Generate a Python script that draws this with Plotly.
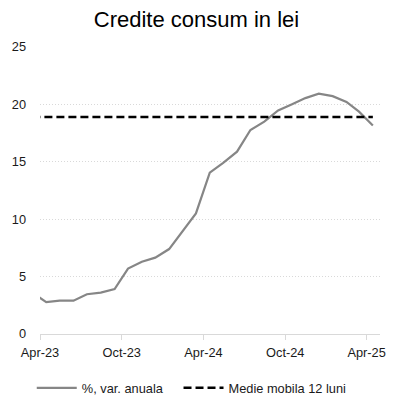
import plotly.graph_objects as go

months = ["2023-03-15", "2023-04-15", "2023-05-15", "2023-06-15", "2023-07-15", "2023-08-15",
          "2023-09-15", "2023-10-15", "2023-11-15", "2023-12-15", "2024-01-15", "2024-02-15",
          "2024-03-15", "2024-04-15", "2024-05-15", "2024-06-15", "2024-07-15", "2024-08-15",
          "2024-09-15", "2024-10-15", "2024-11-15", "2024-12-15", "2025-01-15", "2025-02-15",
          "2025-03-15", "2025-04-15"]
yoy = [3.6, 2.78, 2.9, 2.9, 3.46, 3.6, 3.92, 5.7, 6.3, 6.65, 7.4, 9.0,
       10.5, 14.05, 14.9, 15.88, 17.77, 18.5, 19.47, 20.0, 20.55, 20.93, 20.72, 20.22,
       19.37, 18.17]
moving_avg = [18.9] * len(months)

series_names = ["%, var. anuala", "Medie mobila 12 luni"]
tick_vals = ["2023-04-01", "2023-10-01", "2024-04-01", "2024-10-01", "2025-04-01"]
tick_text = ["Apr-23", "Oct-23", "Apr-24", "Oct-24", "Apr-25"]
y_ticks = [0, 5, 10, 15, 20, 25]

font_family = "Liberation Sans, Arial, sans-serif"

fig = go.Figure()
fig.add_trace(go.Scatter(
    x=months, y=yoy, mode="lines", name=series_names[0] + "\u00a0\u00a0\u00a0",
    line=dict(color="#868686", width=2.2),
))
fig.add_trace(go.Scatter(
    x=months, y=moving_avg, mode="lines", name=series_names[1],
    line=dict(color="#000000", width=2.6, dash="8px,4px"),
))

fig.update_layout(
    width=397, height=397,
    margin=dict(l=33, r=14, t=47, b=63),
    paper_bgcolor="white", plot_bgcolor="white",
    font=dict(family=font_family, size=12, color="#1a1a1a"),
    title=dict(text="Credite consum in lei", x=0.495, xanchor="center",
               y=1 - 19 / 397, yanchor="middle", yref="container",
               font=dict(size=22, color="#000000", family=font_family)),
    showlegend=True,
    legend=dict(orientation="h", xref="container", yref="container",
                x=0.483, xanchor="center", y=1 - 388 / 397, yanchor="middle",
                font=dict(size=12.8, color="#1a1a1a"),
                itemwidth=40, tracegroupgap=0, bgcolor="rgba(0,0,0,0)"),
    xaxis=dict(
        type="date", range=["2023-04-01", "2025-05-01"],
        tickmode="array", tickvals=tick_vals, ticktext=tick_text,
        showgrid=False, showline=True, linecolor="#d9d9d9", linewidth=1,
        ticks="outside", ticklen=5, tickcolor="#d9d9d9",
        ticklabelstandoff=2,
        tickfont=dict(size=12.8, color="#1a1a1a"),
        fixedrange=True,
    ),
    yaxis=dict(
        range=[0, 25], tickmode="array", tickvals=y_ticks,
        showgrid=True, gridcolor="#d9d9d9", griddash="1px,2px", gridwidth=1,
        zeroline=False, showline=False, ticks="",
        ticklabelstandoff=13,
        tickfont=dict(size=12.8, color="#1a1a1a"),
        fixedrange=True,
    ),
)

fig.write_html("out.html",
               config={"displayModeBar": False, "staticPlot": True},
               post_script="document.body.style.margin='0';document.body.style.padding='0';")
